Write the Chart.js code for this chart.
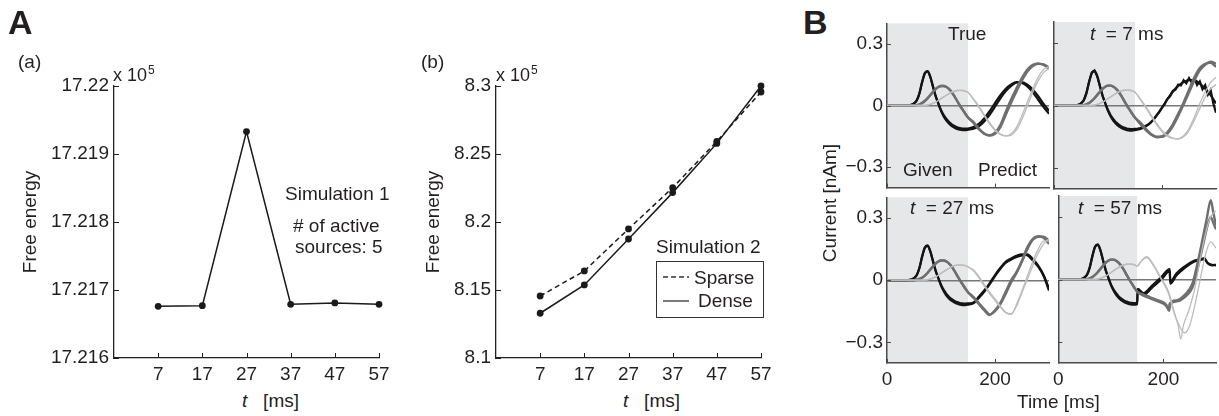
<!DOCTYPE html>
<html>
<head>
<meta charset="utf-8">
<title>Free energy and predicted source currents</title>
<script src="https://cdn.jsdelivr.net/npm/chart.js@4.4.1/dist/chart.umd.min.js"></script>
<style>
  body { margin: 0; width: 1219px; height: 416px; position: relative; overflow: hidden; background: #fff;
         font-family: "Liberation Sans", Arial, Helvetica, sans-serif; color: #231f20; }
  canvas { position: absolute; z-index: 1; }
  .txt, .big, .exp, #legend, #ylabB, svg { z-index: 5; }
  .txt { position: absolute; font-size: 19px; line-height: 1; white-space: nowrap; }
  .big { position: absolute; font-size: 34px; font-weight: bold; line-height: 1; }
  .exp { position: absolute; font-size: 18px; line-height: 1; white-space: nowrap; }
  .exp sup { font-size: 12px; vertical-align: 7px; margin-left: 1px; }
  #legend { position: absolute; left: 656px; top: 261px; width: 106px; height: 55px; border: 1px solid #333; }
  #ylabB { position: absolute; left: 829px; top: 203px; font-size: 19px; line-height: 1; white-space: nowrap;
           transform: translate(-50%, -50%) rotate(-90deg); }
</style>
</head>
<body>
<div class="big" style="left:8px;top:5px">A</div>
<div class="big" style="left:803px;top:5px">B</div>
<div class="txt" style="left:18px;top:52px">(a)</div>
<div class="txt" style="left:421px;top:52px">(b)</div>
<div class="exp" style="left:113px;top:64px">x 10<sup>5</sup></div>
<div class="exp" style="left:496px;top:64px">x 10<sup>5</sup></div>
<div class="txt" style="left:285px;top:184px">Simulation 1</div>
<div class="txt" style="left:293px;top:216px"># of active</div>
<div class="txt" style="left:295px;top:237px">sources: 5</div>
<div class="txt" style="left:656px;top:237px">Simulation 2</div>
<div id="legend"></div>
<svg style="position:absolute;left:663px;top:271px" width="26" height="36">
  <line x1="0" y1="6" x2="26" y2="6" stroke="#333" stroke-width="1.3" stroke-dasharray="5 3"></line>
  <line x1="0" y1="30" x2="26" y2="30" stroke="#333" stroke-width="1.3"></line>
</svg>
<div class="txt" style="left:694px;top:268px">Sparse</div>
<div class="txt" style="left:698px;top:291px">Dense</div>
<div class="txt" style="left:242px;top:391px"><i>t</i>&nbsp;&nbsp;&nbsp;[ms]</div>
<div class="txt" style="left:623px;top:391px"><i>t</i>&nbsp;&nbsp;&nbsp;[ms]</div>
<div class="txt" style="left:948px;top:24px">True</div>
<div class="txt" style="left:1090px;top:24px"><i>t</i>&nbsp;&nbsp;= 7 ms</div>
<div class="txt" style="left:903px;top:160px">Given</div>
<div class="txt" style="left:978px;top:160px">Predict</div>
<div class="txt" style="left:910px;top:198px"><i>t</i>&nbsp;&nbsp;= 27 ms</div>
<div class="txt" style="left:1078px;top:198px"><i>t</i>&nbsp;&nbsp;= 57 ms</div>
<div class="txt" style="left:1017px;top:392px">Time [ms]</div>
<div id="ylabB">Current [nAm]</div>

<script>
// ---- panel A: free energy vs t ----
const simTimes = [7, 17, 27, 37, 47, 57];
const sim1Energy = [17.21676, 17.21677, 17.21933, 17.21679, 17.21681, 17.21679];
const sim2Sparse = [8.1456, 8.164, 8.1949, 8.2252, 8.2593, 8.2956];
const sim2Dense = [8.1329, 8.1537, 8.1875, 8.2216, 8.2578, 8.3];
const sim1Ticks = [17.216, 17.217, 17.218, 17.219, 17.22];
const sim2Ticks = [8.1, 8.15, 8.2, 8.25, 8.3];

// ---- panel B: source currents (nAm) ----
const bTimeTicks = [0, 200];
const bCurrentTicks = [-0.3, 0, 0.3];
const givenWindow = [0, 150];

const givenTime = [0,5,10,15,20,25,30,35,40,45,50,55,60,65,70,75,80,85,90,95,100,105,110,115,120,125,130,135,140,145,150];
const givenBlackA = [0,0,0,0,0,0,0,0,0.001,0.003,0.01,0.025,0.06,0.115,0.158,0.168,0.14,0.092,0.045,0.01,-0.022,-0.047,-0.066,-0.081,-0.092,-0.1,-0.106,-0.11,-0.112,-0.113,-0.112];
const givenBlackB = [0,0,0,0,0,0,0,0,0.001,0.003,0.01,0.024,0.058,0.112,0.155,0.166,0.142,0.095,0.048,0.01,-0.026,-0.053,-0.074,-0.089,-0.1,-0.108,-0.114,-0.118,-0.12,-0.12,-0.118];
const givenDark = [0,0,0,0,0,0,0,0,0,0,0,0.002,0.006,0.012,0.022,0.035,0.05,0.066,0.08,0.09,0.095,0.095,0.09,0.08,0.065,0.045,0.022,0,-0.02,-0.04,-0.058];
const givenLight = [0,0,0,0,0,0,0,0,0,0,0,0,0,0,0,0.002,0.005,0.01,0.016,0.024,0.033,0.042,0.05,0.058,0.065,0.07,0.073,0.074,0.073,0.07,0.064];

const predTime = [160,170,180,190,200,210,220,230,240,250,260,270,280,290,300];
const jitterTime = [155,160,165,170,175,180,185,190,195,200,205,210,215,220,225,230,235,240,245,250,255,260,265,270,275,280,285,290,295,300];

// True
const trueBlackA = [-0.105,-0.09,-0.063,-0.028,0.012,0.05,0.082,0.103,0.114,0.11,0.093,0.064,0.028,-0.008,-0.04];
const trueBlackB = [-0.113,-0.102,-0.078,-0.045,-0.006,0.035,0.07,0.096,0.112,0.114,0.102,0.078,0.045,0.008,-0.025];
const trueDarkA = [-0.085,-0.115,-0.138,-0.145,-0.132,-0.095,-0.03,0.03,0.085,0.135,0.175,0.198,0.205,0.198,0.18];
const trueDarkB = [-0.08,-0.112,-0.136,-0.146,-0.138,-0.105,-0.045,0.015,0.07,0.122,0.165,0.192,0.203,0.2,0.186];
const trueLightA = [0.03,-0.008,-0.05,-0.09,-0.122,-0.142,-0.148,-0.138,-0.105,-0.048,0.018,0.082,0.138,0.175,0.19];
const trueLightB = [0.033,-0.003,-0.044,-0.084,-0.117,-0.139,-0.148,-0.144,-0.118,-0.066,-0.002,0.064,0.12,0.16,0.18];

// t = 7 ms
const t7BlackA = [-0.111,-0.108,-0.104,-0.097,-0.09,-0.078,-0.066,-0.048,-0.032,-0.01,0.006,0.032,0.044,0.07,0.076,0.1,0.096,0.121,0.106,0.132,0.11,0.13,0.098,0.116,0.078,0.098,0.052,0.075,0.01,-0.035];
const t7BlackB = [-0.112,-0.1,-0.08,-0.047,-0.01,0.03,0.066,0.094,0.112,0.122,0.122,0.105,0.08,0.05,0.01];
const t7DarkA = [-0.09,-0.118,-0.14,-0.152,-0.148,-0.128,-0.09,-0.04,0.015,0.075,0.135,0.18,0.2,0.205,0.185];
const t7DarkB = [-0.082,-0.112,-0.137,-0.15,-0.15,-0.135,-0.1,-0.05,0.005,0.062,0.12,0.168,0.195,0.21,0.2];
const t7LightA = [0.028,-0.01,-0.052,-0.092,-0.125,-0.147,-0.158,-0.16,-0.145,-0.11,-0.055,0.01,0.065,0.11,0.135];
const t7LightB = [0.032,-0.005,-0.046,-0.086,-0.12,-0.143,-0.156,-0.16,-0.15,-0.12,-0.07,-0.015,0.04,0.08,0.1];

// t = 27 ms
const t27BlackA = [-0.108,-0.08,-0.05,-0.015,0.025,0.06,0.09,0.105,0.118,0.125,0.12,0.095,0.065,0.02,-0.05];
const t27BlackB = [-0.112,-0.086,-0.056,-0.02,0.02,0.055,0.085,0.1,0.112,0.12,0.125,0.102,0.07,0.025,-0.04];
const t27DarkA = [-0.085,-0.115,-0.145,-0.168,-0.145,-0.11,-0.055,0,0.04,0.095,0.16,0.2,0.212,0.205,0.175];
const t27DarkB = [-0.08,-0.11,-0.14,-0.165,-0.15,-0.115,-0.065,-0.01,0.035,0.09,0.15,0.195,0.21,0.21,0.19];
const t27LightA = [0.05,0.018,-0.02,-0.058,-0.09,-0.125,-0.155,-0.165,-0.115,-0.05,0.02,0.09,0.15,0.19,0.19];
const t27LightB = [0.045,0.012,-0.028,-0.065,-0.098,-0.13,-0.158,-0.162,-0.125,-0.06,0.005,0.07,0.13,0.175,0.2];

// t = 57 ms (irregular sampling around the jumps)
const t57BlackTime = [151,162,178,196,212,213,225,240,258,270,278,284,292,300];
const t57BlackA = [-0.045,-0.065,-0.03,0.012,0.05,-0.01,0.03,0.062,0.09,0.096,0.102,0.078,0.068,0.072];
const t57BlackB = [-0.055,-0.075,-0.04,0,0.04,-0.02,0.02,0.055,0.085,0.094,0.098,0.08,0.07,0.068];
const t57DarkTime = [160,175,190,205,211,212,225,240,255,265,275,283,290,295,300];
const t57DarkA = [-0.07,-0.085,-0.1,-0.12,-0.145,-0.115,-0.1,-0.075,-0.02,0.08,0.2,0.3,0.38,0.32,0.26];
const t57DarkB = [-0.075,-0.09,-0.105,-0.125,-0.15,-0.12,-0.105,-0.085,-0.04,0.05,0.16,0.25,0.3,0.27,0.24];
const t57LightTimeA = [158,168,180,196,210,220,228,233,238,248,260,270,280,290,300];
const t57LightA = [0.09,0.11,0.075,0.005,-0.06,-0.15,-0.22,-0.285,-0.22,-0.15,-0.04,0.1,0.22,0.3,0.33];
const t57LightTimeB = [158,168,180,196,210,220,230,240,250,260,270,280,290,300];
const t57LightB = [0.088,0.105,0.07,0,-0.07,-0.16,-0.22,-0.255,-0.22,-0.12,0,0.12,0.18,0.15];

const tones = { black: ['#141414', 2.2], dark: ['#6f6f6f', 2.4], light: ['#bcbcbc', 1.3] };

Chart.defaults.font.family = '"Liberation Sans", Arial, Helvetica, sans-serif';
Chart.defaults.font.size = 19;
Chart.defaults.color = '#231f20';

// inward tick marks, matlab style
const inTicks = {
  id: 'inTicks',
  afterDraw(chart, args, o) {
    const ctx = chart.ctx, sx = chart.scales.x, sy = chart.scales.y;
    ctx.save();
    ctx.strokeStyle = o.color;
    ctx.lineWidth = o.width;
    ctx.beginPath();
    sx.ticks.forEach(t => {
      const p = Math.round(sx.getPixelForValue(t.value)) + 0.5;
      ctx.moveTo(p, sx.top);
      ctx.lineTo(p, sx.top - o.len);
    });
    sy.ticks.forEach(t => {
      const p = Math.round(sy.getPixelForValue(t.value)) + 0.5;
      ctx.moveTo(sy.right, p);
      ctx.lineTo(sy.right + o.len, p);
    });
    ctx.stroke();
    ctx.restore();
  }
};

// grey "given" window
const shade = {
  id: 'shade',
  beforeDraw(chart, args, o) {
    if (!o.range) return;
    const a = chart.chartArea, sx = chart.scales.x;
    const x0 = sx.getPixelForValue(o.range[0]);
    const x1 = sx.getPixelForValue(o.range[1]);
    chart.ctx.save();
    chart.ctx.fillStyle = o.color;
    chart.ctx.fillRect(x0, a.top, x1 - x0, a.bottom - a.top);
    chart.ctx.restore();
  }
};

function makeCanvas(box, m) {
  const c = document.createElement('canvas');
  const w = box[2] - box[0] + m.l + m.r;
  const h = box[3] - box[1] + m.t + m.b;
  c.width = w;
  c.height = h;
  c.style.left = (box[0] - m.l) + 'px';
  c.style.top = (box[1] - m.t) + 'px';
  document.body.appendChild(c);
  return c;
}

function pts(times, vals) {
  return times.map((t, i) => ({ x: t, y: vals[i] }));
}

// ---------- A(a) and A(b) ----------
function energyChart(box, m, datasets, yTicks, digits, titlePad) {
  return new Chart(makeCanvas(box, m), {
    type: 'line',
    data: { datasets: datasets },
    options: {
      responsive: false,
      devicePixelRatio: 1,
      animation: false,
      layout: { padding: { top: m.t, right: m.r, left: 0, bottom: 0 } },
      plugins: { legend: { display: false }, tooltip: { enabled: false },
                 inTicks: { len: 5, color: '#231f20', width: 1 } },
      scales: {
        x: {
          type: 'linear', min: -3, max: 57,
          afterBuildTicks: s => { s.ticks = simTimes.map(v => ({ value: v })); },
          afterFit: s => { s.height = m.b; },
          grid: { display: false, drawTicks: false },
          border: { color: '#231f20', width: 1.3 },
          ticks: { padding: 5, autoSkip: false, maxRotation: 0, color: '#231f20' }
        },
        y: {
          type: 'linear', min: yTicks[0], max: yTicks[yTicks.length - 1],
          afterBuildTicks: s => { s.ticks = yTicks.map(v => ({ value: v })); },
          afterFit: s => { s.width = m.l; },
          grid: { display: false, drawTicks: false },
          border: { color: '#231f20', width: 1.3 },
          ticks: { padding: 5, color: '#231f20', callback: v => String(Number(v.toFixed(digits))) },
          title: { display: true, text: 'Free energy', color: '#231f20', padding: { top: titlePad, bottom: 0 } }
        }
      }
    },
    plugins: [inTicks]
  });
}

function dot(data, dash) {
  return {
    data: data, borderColor: '#1a1a1a', borderWidth: 1.5, borderDash: dash || [],
    pointRadius: 3.4, pointBackgroundColor: '#1a1a1a', pointBorderWidth: 0, tension: 0, clip: false
  };
}

energyChart([114, 86, 379, 358], { l: 114, t: 86, r: 20, b: 32 },
  [dot(pts(simTimes, sim1Energy))], sim1Ticks, 3, 19.6);

energyChart([496, 86, 761, 358], { l: 80, t: 30, r: 20, b: 32 },
  [dot(pts(simTimes, sim2Sparse), [5, 3.5]), dot(pts(simTimes, sim2Dense))], sim2Ticks, 2, 5.9);

// ---------- B: four current panels ----------
function wave(givenVals, times, vals) {
  return pts(givenTime, givenVals).concat(pts(times, vals));
}

function line(tone, data, tension) {
  return {
    data: data, borderColor: tones[tone][0], borderWidth: tones[tone][1],
    pointRadius: 0, cubicInterpolationMode: tension ? 'monotone' : 'default', tension: 0
  };
}

function currentChart(box, m, sets, xLabels, yLabels) {
  return new Chart(makeCanvas(box, m), {
    type: 'line',
    data: { datasets: sets },
    options: {
      responsive: false,
      devicePixelRatio: 1,
      animation: false,
      layout: { padding: { top: m.t, right: m.r, left: 0, bottom: 0 } },
      plugins: { legend: { display: false }, tooltip: { enabled: false },
                 shade: { range: givenWindow, color: '#e6e7e8' },
                 inTicks: { len: 4, color: '#4a4a4a', width: 1 } },
      scales: {
        x: {
          type: 'linear', min: 0, max: 300,
          afterBuildTicks: s => { s.ticks = bTimeTicks.map(v => ({ value: v })); },
          afterFit: s => { s.height = m.b; },
          grid: { display: false, drawTicks: false },
          border: { color: '#4a4a4a', width: 1.5 },
          ticks: { display: xLabels, padding: 5, autoSkip: false, maxRotation: 0, color: '#231f20' }
        },
        y: {
          type: 'linear', min: -0.4, max: 0.4,
          afterBuildTicks: s => { s.ticks = bCurrentTicks.map(v => ({ value: v })); },
          afterFit: s => { s.width = m.l; },
          grid: { drawTicks: false, lineWidth: 1.4,
                  color: c => (c.tick && c.tick.value === 0 ? '#777' : 'rgba(0,0,0,0)') },
          border: { color: '#4a4a4a', width: 1.5 },
          ticks: { display: yLabels, padding: 4, color: '#231f20',
                   callback: v => (v < 0 ? '\u2212' + Math.abs(v) : String(v)) }
        }
      }
    },
    plugins: [shade, inTicks]
  });
}

currentChart([887, 22, 1049, 189], { l: 45, t: 14, r: 3, b: 14 }, [
  line('light', wave(givenLight, predTime, trueLightA), 1),
  line('light', wave(givenLight, predTime, trueLightB), 1),
  line('dark', wave(givenDark, predTime, trueDarkA), 1),
  line('dark', wave(givenDark, predTime, trueDarkB), 1),
  line('black', wave(givenBlackA, predTime, trueBlackA), 1),
  line('black', wave(givenBlackB, predTime, trueBlackB), 1)
], false, true);

currentChart([1054, 22, 1216, 189], { l: 6, t: 14, r: 3, b: 14 }, [
  line('light', wave(givenLight, predTime, t7LightA), 1),
  line('light', wave(givenLight, predTime, t7LightB), 1),
  line('dark', wave(givenDark, predTime, t7DarkA), 1),
  line('dark', wave(givenDark, predTime, t7DarkB), 1),
  line('black', wave(givenBlackB, predTime, t7BlackB), 1),
  line('black', wave(givenBlackA, jitterTime, t7BlackA), 0)
], false, false);

currentChart([887, 196, 1049, 363], { l: 45, t: 14, r: 3, b: 28 }, [
  line('light', wave(givenLight, predTime, t27LightA), 1),
  line('light', wave(givenLight, predTime, t27LightB), 1),
  line('dark', wave(givenDark, predTime, t27DarkA), 1),
  line('dark', wave(givenDark, predTime, t27DarkB), 1),
  line('black', wave(givenBlackA, predTime, t27BlackA), 1),
  line('black', wave(givenBlackB, predTime, t27BlackB), 1)
], true, true);

currentChart([1054, 196, 1216, 363], { l: 6, t: 14, r: 3, b: 28 }, [
  line('light', wave(givenLight, t57LightTimeA, t57LightA), 1),
  line('light', wave(givenLight, t57LightTimeB, t57LightB), 1),
  line('dark', wave(givenDark, t57DarkTime, t57DarkA), 1),
  line('dark', wave(givenDark, t57DarkTime, t57DarkB), 1),
  line('black', wave(givenBlackA, t57BlackTime, t57BlackA), 1),
  line('black', wave(givenBlackB, t57BlackTime, t57BlackB), 1)
], true, false);
</script>
</body>
</html>
